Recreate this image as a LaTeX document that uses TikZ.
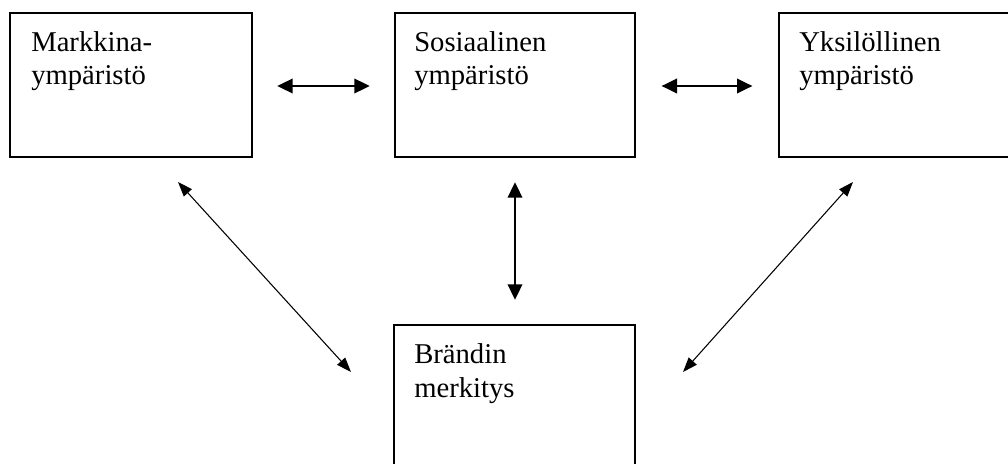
\documentclass[tikz,border=0pt]{standalone}
\usepackage{fontspec}
\setmainfont{Liberation Serif}
\usetikzlibrary{arrows.meta}
\tikzset{
  box/.style={draw, line width=1pt, inner sep=0pt, outer sep=0pt, minimum height=108pt},
  lbl/.style={anchor=base west, inner sep=0pt, font=\fontsize{21.5pt}{26pt}\selectfont},
  thick arrow/.style={line width=1.2pt, {Triangle[length=11.5pt,width=11pt]}-{Triangle[length=11.5pt,width=11pt]}},
  thin arrow/.style={line width=0.8pt, {Triangle[length=11pt,width=8pt]}-{Triangle[length=11pt,width=8pt]}}
}
\begin{document}
\begin{tikzpicture}[x=0.75pt,y=-0.75pt]
\useasboundingbox (0,0) rectangle (1008,464);
% boxes
\node[box, minimum width=181.5pt] (m) at (131,85) {};
\node[box, minimum width=180pt] (s) at (515,85) {};
\node[box, minimum width=181.5pt] (y) at (900,85) {};
\node[box, minimum width=180.75pt] (b) at (514.5,397) {};
% texts
\node[lbl] (m1) at (31,51) {Markkina-};
\node[lbl] (m2) at (31,84) {ympäristö};
\node[lbl] (s1) at (414,51) {Sosiaalinen};
\node[lbl] (s2) at (414,84) {ympäristö};
\node[lbl] (y1) at (799,51) {Yksilöllinen};
\node[lbl] (y2) at (799,84) {ympäristö};
\node[lbl] (b1) at (414,363) {Brändin};
\node[lbl] (b2) at (414,397) {merkitys};
% arrow ends
\coordinate (ml) at (178,182);
\coordinate (bl) at (351,372);
\coordinate (yr) at (853,182);
\coordinate (br) at (683,372);
% connectors
\draw[thick arrow, shorten <=19pt, shorten >=19pt] ([yshift=-0.75pt]m.east) -- ([yshift=-0.75pt]s.west);
\draw[thick arrow, shorten <=20pt, shorten >=20pt] ([yshift=-0.75pt]s.east) -- ([yshift=-0.75pt]y.west);
\draw[thick arrow, shorten <=19pt, shorten >=19pt] (s.south) -- (b.north -| s.south);
\draw[thin arrow] (ml) -- (bl);
\draw[thin arrow] (yr) -- (br);
\end{tikzpicture}
\end{document}
